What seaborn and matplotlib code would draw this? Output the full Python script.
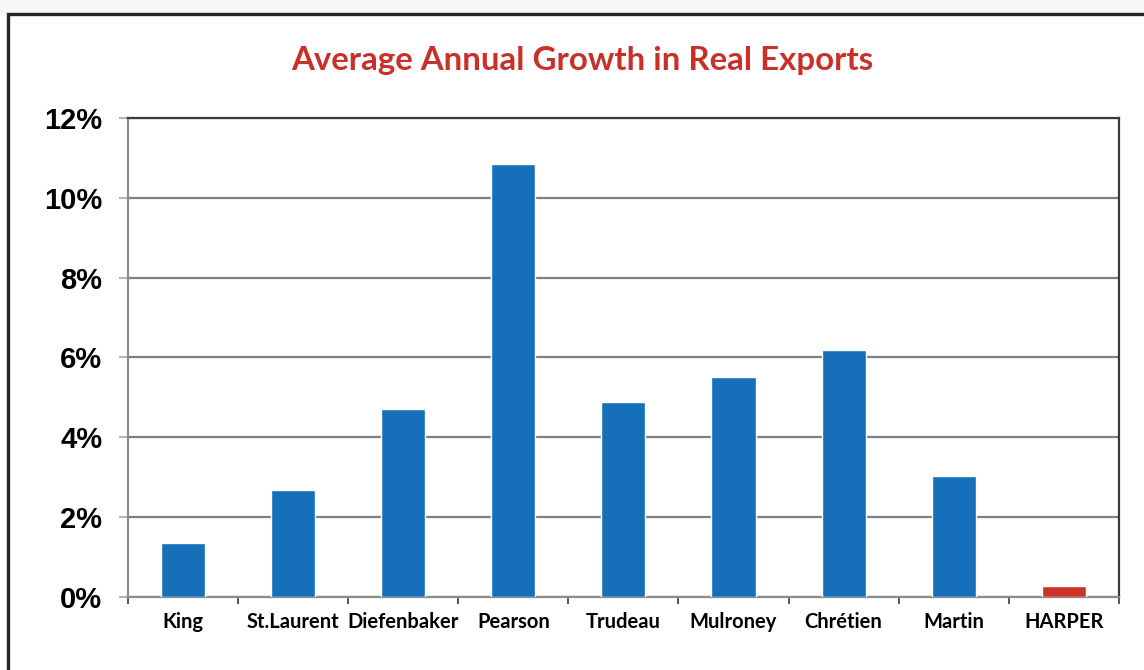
import matplotlib
matplotlib.use("Agg")
import matplotlib.pyplot as plt
from matplotlib.patches import Rectangle
from matplotlib.ticker import FuncFormatter, FixedLocator
import seaborn as sns

# Average annual growth in real exports by prime minister (%)
leaders = ["King", "St.Laurent", "Diefenbaker", "Pearson", "Trudeau",
           "Mulroney", "Chrétien", "Martin", "HARPER"]
growth = [1.35, 2.68, 4.71, 10.85, 4.89, 5.51, 6.19, 3.03, 0.28]
bar_colors = ["#1570b9"] * 8 + ["#cc3227"]
y_ticks = [0, 2, 4, 6, 8, 10, 12]

sns.set_theme(style="white")
plt.rcParams["font.family"] = ["Lato", "DejaVu Sans"]

fig = plt.figure(figsize=(11.44, 6.70), dpi=100)
fig.patch.set_facecolor("white")

# light shading above the frame and the frame itself
fig.add_artist(Rectangle((0, 0.979), 1, 0.021, transform=fig.transFigure,
                         facecolor="#f7f7f7", edgecolor="none", zorder=0))
fig.add_artist(Rectangle((0.007, -0.05), 1.2, 1.029, transform=fig.transFigure,
                         facecolor="white", edgecolor="#262626", linewidth=2.4,
                         zorder=0))

ax = fig.add_axes([0.1119, 0.109, 0.8661, 0.715])
ax.set_zorder(2)

sns.barplot(x=leaders, y=growth, hue=leaders, palette=bar_colors,
            legend=False, width=0.4, saturation=1, ax=ax, zorder=3)

ax.set_ylim(0, 12)
ax.set_xlim(-0.5, len(leaders) - 0.5)
ax.yaxis.set_major_locator(FixedLocator(y_ticks))
ax.yaxis.set_major_formatter(FuncFormatter(lambda v, _: f"{v:.0f}%"))
ax.grid(axis="y", color="#7f7f7f", linewidth=1.6, zorder=1)
ax.set_axisbelow(True)

for lab in ax.get_yticklabels():
    lab.set_fontfamily("Liberation Sans")
    lab.set_fontweight("bold")
    lab.set_fontsize(21)
    lab.set_color("black")
ax.tick_params(axis="y", length=6.5, width=1.2, color="#a6a6a6", pad=12,
               left=True)

# category boundaries carry the x tick marks
ax.xaxis.set_minor_locator(FixedLocator([i - 0.5 for i in range(len(leaders) + 1)]))
ax.tick_params(axis="x", which="major", length=0, pad=11)
ax.tick_params(axis="x", which="minor", length=5, width=1.4, color="#555555",
               bottom=True)
for lab in ax.get_xticklabels():
    lab.set_fontweight("bold")
    lab.set_fontsize(14.5)
    lab.set_color("black")

for side in ["left", "bottom"]:
    ax.spines[side].set_color("#8c8c8c")
    ax.spines[side].set_linewidth(1.6)
for side in ["top", "right"]:
    ax.spines[side].set_color("#3a3a3a")
    ax.spines[side].set_linewidth(1.6)
ax.set_xlabel("")
ax.set_ylabel("")

fig.text(0.509, 0.909, "Average Annual Growth in Real Exports",
         ha="center", va="center", fontsize=23.8, fontweight="bold",
         color="#c8312a")

fig.savefig("out.png", dpi=100, facecolor="white")
